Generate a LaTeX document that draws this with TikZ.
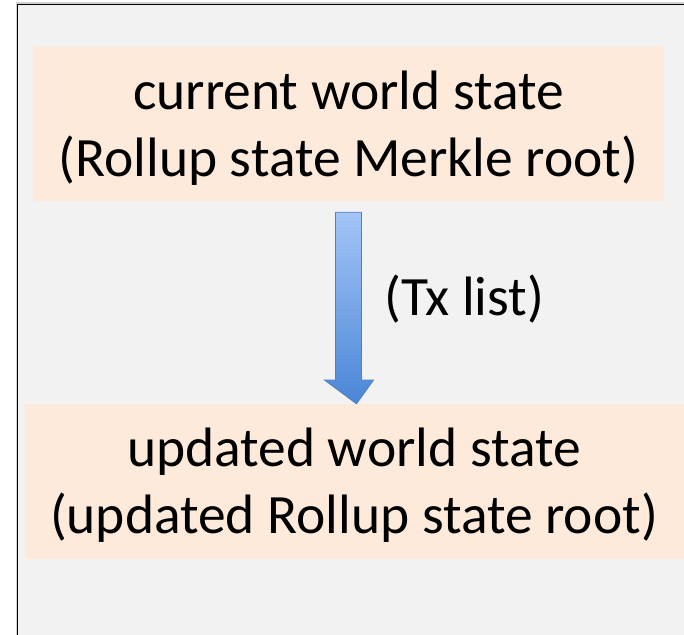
\documentclass[tikz,border=0pt]{standalone}
\usepackage{fontspec}
\setmainfont{Carlito}
\definecolor{bgcol}{HTML}{F2F2F2}
\definecolor{peach}{HTML}{FDEADA}
\definecolor{arrtop}{HTML}{A3C5F7}
\definecolor{arrbot}{HTML}{4A86D6}
\definecolor{arredge}{HTML}{4F7FC0}
\begin{document}
\begin{tikzpicture}[x=1pt,y=-1pt,
  statebox/.style={fill=peach,draw=none,inner sep=0pt,
    font=\fontsize{55.5}{68}\selectfont},
  lbl/.style={inner sep=0pt,font=\fontsize{55.5}{68}\selectfont}]
\useasboundingbox (0,0) rectangle (684,634);
\fill[white] (0,0) rectangle (684,634);
% shadow and frame
\fill[black!18] (15.5,2.5) rectangle (700,650);
\fill[bgcol,draw=black,line width=1.4pt] (17.5,4.5) rectangle (700,650);
\node[statebox,minimum width=631pt,minimum height=155pt] (cur) at (348.5,123.5) {};
\node[statebox,minimum width=661pt,minimum height=155pt] (upd) at (355.5,481.5) {};
\node[lbl,anchor=base] (cur1) at (348.5,109) {current world state};
\node[lbl,anchor=base] (cur2) at (348.5,176) {(Rollup state Merkle root)};
\node[lbl,anchor=base] (upd1) at (354,466) {updated world state};
\node[lbl,anchor=base] (upd2) at (354,533) {(updated Rollup state root)};
\coordinate (s) at ([yshift=-11pt]cur.south);
\coordinate (t) at (upd.north);
\path[top color=arrtop,bottom color=arrbot,draw=arredge,line width=0.8pt,line join=miter]
  ([xshift=-13pt]s) -- ([xshift=13pt]s) -- ([xshift=13pt]s |- 0,380) -- ([xshift=25pt]s |- 0,380)
  -- ([xshift=1pt]t) -- ([xshift=-24pt]s |- 0,380) -- ([xshift=-13pt]s |- 0,380) -- cycle;
\node[lbl,anchor=base west] (tx) at (384,315) {(Tx list)};
\end{tikzpicture}
\end{document}
